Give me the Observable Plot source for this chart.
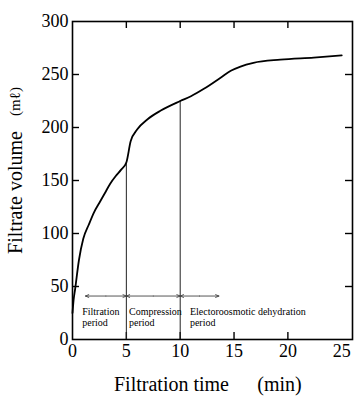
<!DOCTYPE html>
<html>
<head>
<meta charset="utf-8">
<script src="https://cdn.jsdelivr.net/npm/d3@7"></script>
<script src="https://cdn.jsdelivr.net/npm/@observablehq/plot@0.6"></script>
<style>
  html, body { margin: 0; padding: 0; background: white; }
  #chart svg { display: block; }
</style>
</head>
<body>
<div id="chart"></div>
<script>
// Filtration curve (time in min, filtrate volume in mℓ)
const time   = [0, 0.1, 0.25, 0.6, 1.0, 1.5, 2.0, 2.5, 3.0, 3.5, 4.0, 4.5, 5.0, 5.4, 6.0, 7.0, 8.2, 10.0, 11.0, 12.2, 13.75, 14.7, 15.6, 16.8, 19.3, 22.4, 25.0];
const volume = [25, 37, 48, 75, 95, 108, 120, 129, 138, 147, 154, 160, 167, 187, 198, 208, 216, 225, 229.5, 236.5, 247, 253.5, 257.5, 261, 264, 266, 268];

// Period boundaries (vertical lines from the axis up to the curve)
const boundaryTime   = [5, 10];
const boundaryVolume = [167, 225];

// Period arrows
const periodStart = [1.2, 5, 10];
const periodEnd   = [5, 10, 13.6];
const arrowVolume = [41];

// Period labels
const periodLabel = ["Filtration\nperiod", "Compression\nperiod", "Electoroosmotic dehydration\nperiod"];
const labelTime   = [0.9, 5.25, 10.9];
const labelVolume = [21];

// Ticks
const xTicks = [0, 5, 10, 15, 20, 25];
const xInnerTicks = [5, 10, 15, 20];
const yTicks = [0, 50, 100, 150, 200, 250, 300];
const yInnerTicks = [50, 100, 150, 200, 250];

const W = 358, H = 403;
const mL = 72, mR = 6, mT = 21, mB = 64;
const frameW = W - mL - mR, frameH = H - mT - mB;
const tickLen = 7;

const arrows = periodStart.flatMap((s, i) => {
  const m = (s + periodEnd[i]) / 2;
  return [{x1: m, x2: s}, {x1: m, x2: periodEnd[i]}];
});

const chart = Plot.plot({
  width: W, height: H,
  marginLeft: mL, marginRight: mR, marginTop: mT, marginBottom: mB,
  x: {domain: [0, 26]},
  y: {domain: [0, 300]},
  style: {fontFamily: '"Liberation Serif", "DejaVu Serif", serif', background: "white", color: "black"},
  marks: [
    Plot.frame({stroke: "black", strokeWidth: 1.6}),
    // inward ticks on all four sides
    Plot.tickX(xInnerTicks, {x: d => d, insetTop: frameH - tickLen, strokeWidth: 1.4}),
    Plot.tickX(xInnerTicks, {x: d => d, insetBottom: frameH - tickLen, strokeWidth: 1.4}),
    Plot.tickY(yInnerTicks, {y: d => d, insetRight: frameW - tickLen, strokeWidth: 1.4}),
    Plot.tickY(yInnerTicks, {y: d => d, insetLeft: frameW - tickLen, strokeWidth: 1.4}),
    Plot.axisX(xTicks, {tickSize: 0, tickPadding: 5, fontSize: 18, label: null}),
    Plot.axisY(yTicks, {tickSize: 0, tickPadding: 4, fontSize: 18, label: null}),
    // period boundaries
    Plot.ruleX(boundaryTime, {x: boundaryTime, y1: 0, y2: boundaryVolume, stroke: "#222", strokeWidth: 1}),
    // period arrows
    Plot.arrow(arrows, {x1: "x1", x2: "x2", y1: arrowVolume[0], y2: arrowVolume[0], headLength: 6, headAngle: 45, stroke: "#444", strokeWidth: 0.9}),
    Plot.text(periodLabel, {x: labelTime, y: labelVolume[0], text: d => d, textAnchor: "start", lineAnchor: "middle", fontSize: 10, lineHeight: 1.1}),
    // curve
    Plot.line(time, {x: time, y: volume, curve: "monotone-x", stroke: "black", strokeWidth: 1.8}),
    // axis titles
    Plot.text(["Filtrate volume"], {text: d => d, frameAnchor: "left", textAnchor: "middle", lineAnchor: "middle", rotate: -90, dx: -57, dy: 12, fontSize: 20}),
    Plot.text(["(mℓ)"], {text: d => d, frameAnchor: "left", textAnchor: "middle", lineAnchor: "middle", rotate: -90, dx: -57, dy: -79, fontSize: 15}),
    Plot.text(["Filtration time"], {text: d => d, frameAnchor: "bottom", textAnchor: "middle", lineAnchor: "middle", dx: -41, dy: 45, fontSize: 20}),
    Plot.text(["(min)"], {text: d => d, frameAnchor: "bottom", textAnchor: "middle", lineAnchor: "middle", dx: 67, dy: 45, fontSize: 20})
  ]
});
document.getElementById("chart").appendChild(chart);
</script>
</body>
</html>
